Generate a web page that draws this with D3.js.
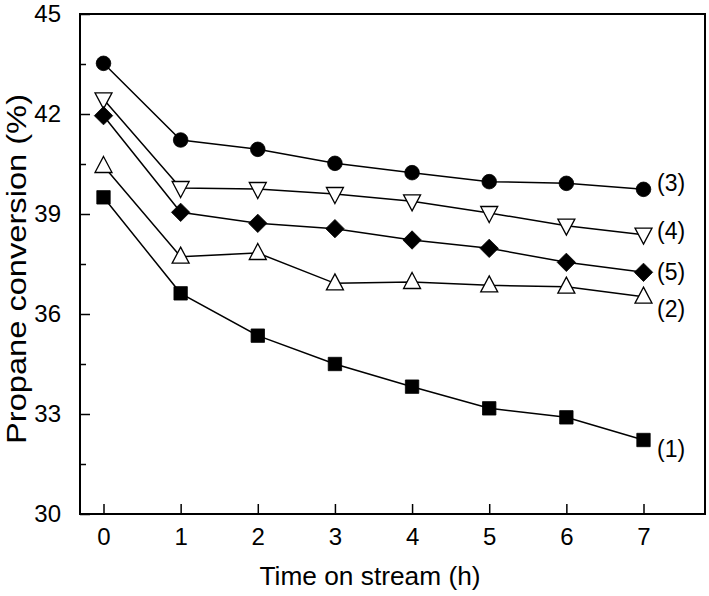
<!DOCTYPE html>
<html>
<head>
<meta charset="utf-8">
<script src="https://cdn.jsdelivr.net/npm/d3@7"></script>
<style>
  html, body { margin: 0; padding: 0; background: #fff; }
  svg { display: block; }
  text { font-family: Arial, "Liberation Sans", sans-serif; fill: #000; }
</style>
</head>
<body>
<svg id="chart" width="709" height="596"></svg>
<script>
// ---- data ----
const times = [0, 1, 2, 3, 4, 5, 6, 7];
const s1 = [39.50, 36.62, 35.35, 34.50, 33.82, 33.17, 32.90, 32.22]; // (1) squares
const s2 = [40.44, 37.72, 37.83, 36.92, 36.96, 36.86, 36.82, 36.52]; // (2) up triangles
const s3 = [43.52, 41.22, 40.94, 40.52, 40.24, 39.97, 39.92, 39.74]; // (3) circles
const s4 = [42.44, 39.78, 39.75, 39.60, 39.38, 39.03, 38.65, 38.38]; // (4) down triangles
const s5 = [41.95, 39.05, 38.72, 38.56, 38.22, 37.97, 37.55, 37.25]; // (5) diamonds
const seriesLabels = ["(1)", "(2)", "(3)", "(4)", "(5)"];
const xTickLabels = ["0", "1", "2", "3", "4", "5", "6", "7"];
const yTickLabels = ["30", "33", "36", "39", "42", "45"];
const xTitle = "Time on stream (h)";
const yTitle = "Propane conversion (%)";

// ---- layout ----
const svg = d3.select("#chart");
const frame = { left: 80, right: 705, top: 14, bottom: 514 };
const x = d3.scaleLinear().domain([0, 7]).range([103.5, 643.5]);
const y = d3.scaleLinear().domain([30, 45]).range([frame.bottom, frame.top]);

const series = [
  { values: s1, shape: "square", fill: "#000", label: seriesLabels[0], dy: 9 },
  { values: s2, shape: "up", fill: "#fff", label: seriesLabels[1], dy: 12 },
  { values: s3, shape: "circle", fill: "#000", label: seriesLabels[2], dy: -6 },
  { values: s4, shape: "down", fill: "#fff", label: seriesLabels[3], dy: -4 },
  { values: s5, shape: "diamond", fill: "#000", label: seriesLabels[4], dy: 0 }
];

// lines
const line = d3.line().x((d, i) => x(times[i])).y(d => y(d));
series.forEach(s => {
  svg.append("path").attr("d", line(s.values))
    .attr("fill", "none").attr("stroke", "#000").attr("stroke-width", 1.5);
});

// markers
function shapePath(shape) {
  switch (shape) {
    case "square": return "M-6.7,-6.7H6.7V6.7H-6.7Z";
    case "circle": return d3.symbol(d3.symbolCircle, Math.PI * 7.3 * 7.3)();
    case "up": return "M0,-9.5L8.5,6.5L-8.5,6.5Z";
    case "down": return "M0,9.5L8.5,-6.5L-8.5,-6.5Z";
    case "diamond": return "M0,-9.2L9.2,0L0,9.2L-9.2,0Z";
  }
}
series.forEach(s => {
  svg.append("g").selectAll("path").data(s.values).join("path")
    .attr("transform", (d, i) => `translate(${x(times[i])},${y(d)})`)
    .attr("d", shapePath(s.shape))
    .attr("fill", s.fill)
    .attr("stroke", "#000")
    .attr("stroke-width", s.fill === "#fff" ? 1.3 : 0.8);
});

// series labels
series.forEach(s => {
  const last = s.values[s.values.length - 1];
  svg.append("text")
    .attr("x", 657)
    .attr("y", y(last) + s.dy)
    .attr("dy", "0.35em")
    .attr("font-size", 23)
    .text(s.label);
});

// frame
svg.append("rect")
  .attr("x", frame.left).attr("y", frame.top)
  .attr("width", frame.right - frame.left).attr("height", frame.bottom - frame.top)
  .attr("fill", "none").attr("stroke", "#000").attr("stroke-width", 2);

// x axis (ticks inward)
const xAxis = d3.axisBottom(x).tickValues(times).tickSize(-10).tickPadding(14)
  .tickFormat((d, i) => xTickLabels[i]);
const gx = svg.append("g").attr("transform", `translate(0,${frame.bottom})`).call(xAxis);
gx.select(".domain").remove();
gx.selectAll("line").attr("stroke", "#000").attr("stroke-width", 1.5);
gx.selectAll("text").attr("font-size", 24).attr("font-family", "Arial, 'Liberation Sans', sans-serif").attr("fill", "#000");

// y axis (major + minor ticks inward)
const yMajor = yTickLabels.map(Number);
const yAxis = d3.axisLeft(y).tickValues(yMajor).tickSize(-10).tickPadding(19)
  .tickFormat((d, i) => yTickLabels[i]);
const gy = svg.append("g").attr("transform", `translate(${frame.left},0)`).call(yAxis);
gy.select(".domain").remove();
gy.selectAll("line").attr("stroke", "#000").attr("stroke-width", 1.5);
gy.selectAll("text").attr("font-size", 24).attr("font-family", "Arial, 'Liberation Sans', sans-serif").attr("fill", "#000");

const yMinor = yMajor.slice(0, -1).map(v => v + 1.5);
const gyMinor = svg.append("g").attr("transform", `translate(${frame.left},0)`)
  .call(d3.axisLeft(y).tickValues(yMinor).tickSize(-6).tickFormat(""));
gyMinor.select(".domain").remove();
gyMinor.selectAll("line").attr("stroke", "#000").attr("stroke-width", 1.5);

// axis titles
svg.append("text")
  .attr("x", 370).attr("y", 585)
  .attr("text-anchor", "middle")
  .attr("font-size", 25)
  .attr("textLength", 221).attr("lengthAdjust", "spacingAndGlyphs")
  .text(xTitle);

svg.append("text")
  .attr("transform", "translate(26,269) rotate(-90)")
  .attr("text-anchor", "middle")
  .attr("font-size", 28)
  .attr("textLength", 350).attr("lengthAdjust", "spacingAndGlyphs")
  .text(yTitle);
</script>
</body>
</html>
